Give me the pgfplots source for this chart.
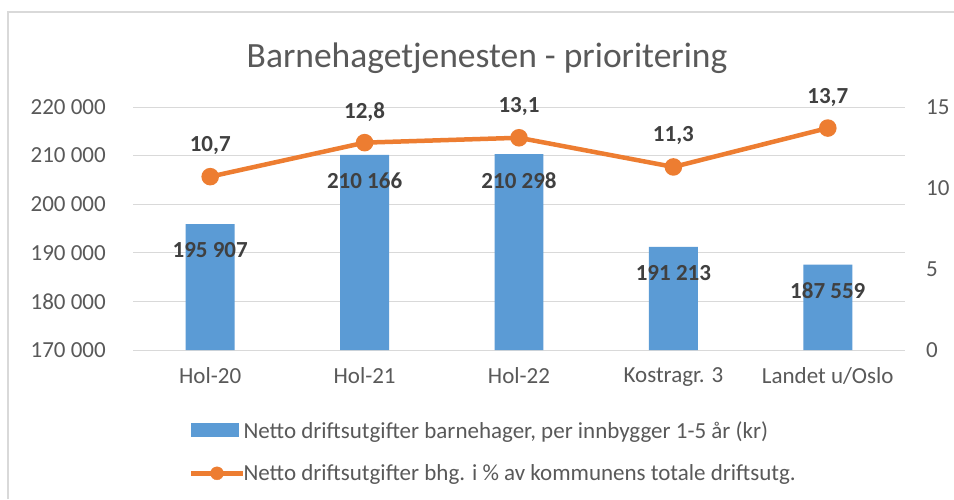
\documentclass[border=0pt]{standalone}
\usepackage{fontspec}
\setmainfont{Carlito}
\usepackage{pgfplots}
\pgfplotsset{compat=1.18}
\definecolor{barblue}{HTML}{5B9BD5}
\definecolor{linorange}{HTML}{ED7D31}
\definecolor{txtgray}{HTML}{595959}
\definecolor{lblgray}{HTML}{404040}
\definecolor{gridgray}{HTML}{D9D9D9}
\begin{document}
\begin{tikzpicture}
\useasboundingbox (0,0) rectangle (954pt,499pt);
\fill[white] (0,0) rectangle (954pt,499pt);
\draw[gridgray, line width=1.5pt] (8pt,0) -- (8pt,487pt) -- (954pt,487pt);
\node[txtgray, font=\fontsize{35.5}{42}\selectfont] at (487pt,441pt) {Barnehagetjenesten - prioritering};
\begin{axis}[
  at={(133pt,149pt)}, anchor=south west,
  scale only axis, width=772pt, height=243pt,
  xmin=-0.5, xmax=4.5, ymin=170000, ymax=220000,
  scaled y ticks=false,
  xtick={0,1,2,3,4}, xticklabels={Hol-20,Hol-21,Hol-22,Kostragr. 3,Landet u/Oslo},
  ytick={170000,180000,190000,200000,210000,220000},
  yticklabels={170 000,180 000,190 000,200 000,210 000,220 000},
  ymajorgrids, grid style={gridgray, line width=1pt},
  axis line style={draw=none},
  major tick length=0pt,
  tick label style={txtgray, font=\fontsize{23}{28}\selectfont},
  yticklabel style={anchor=east, inner sep=0pt, xshift=-27pt},
  xticklabel style={anchor=north, inner sep=0pt, yshift=-17pt},
  legend style={at={(0.071,-0.278)}, anchor=north west, draw=none, fill=none,
    font=\fontsize{23}{28}\selectfont, text=txtgray, row sep=22pt, nodes={inner sep=1.5pt}},
  legend cell align=left,
]
\addplot[ybar, bar width=0.317, fill=barblue, draw=none,
  point meta=explicit symbolic,
  nodes near coords,
  every node near coord/.append style={anchor=center, yshift=-26pt, text=lblgray, font=\bfseries\fontsize{23}{28}\selectfont},
  legend image code/.code={\fill[barblue] (0pt,-7pt) rectangle (48pt,7pt); \pgfresetboundingbox \pgfpathrectangle{\pgfpoint{0pt}{-7pt}}{\pgfpoint{47pt}{14pt}}\pgfusepath{use as bounding box}}]
  coordinates {(0,195907) [195 907] (1,210166) [210 166] (2,210298) [210 298] (3,191213) [191 213] (4,187559) [187 559]};
\addlegendentry{Netto driftsutgifter barnehager, per innbygger 1-5 år (kr)}
\addlegendimage{legend image code/.code={\draw[linorange, line width=4.5pt] (0pt,0pt) -- (52pt,0pt); \fill[linorange] (26pt,0pt) circle (6.5pt); \pgfresetboundingbox \pgfpathrectangle{\pgfpoint{4pt}{-7pt}}{\pgfpoint{47pt}{14pt}}\pgfusepath{use as bounding box}}}
\addlegendentry{Netto driftsutgifter bhg. i \% av kommunens totale driftsutg.}
\end{axis}
\begin{axis}[
  at={(133pt,149pt)}, anchor=south west,
  scale only axis, width=772pt, height=243pt,
  xmin=-0.5, xmax=4.5, ymin=0, ymax=15,
  axis y line*=right, axis x line=none,
  ytick={0,5,10,15},
  axis line style={draw=none},
  major tick length=0pt,
  /pgf/number format/assume math mode=true,
  tick label style={txtgray, font=\fontsize{23}{28}\selectfont},
  yticklabel style={anchor=west, inner sep=0pt, xshift=21pt},
]
\addplot[linorange, line width=4.5pt, mark=*, mark size=6.5pt,
  nodes near coords={\pgfmathprintnumber[fixed,precision=1,fixed zerofill,use comma,assume math mode=true]{\pgfplotspointmeta}},
  every node near coord/.append style={anchor=center, yshift=31pt, text=lblgray, font=\bfseries\fontsize{23}{28}\selectfont}]
  coordinates {(0,10.7) (1,12.8) (2,13.1) (3,11.3) (4,13.7)};
\end{axis}
\end{tikzpicture}
\end{document}
